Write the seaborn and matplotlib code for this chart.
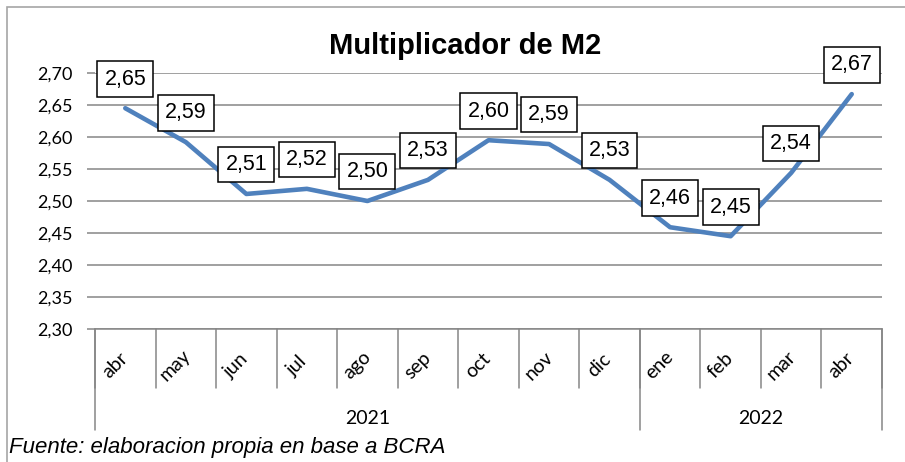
import matplotlib
matplotlib.use("Agg")
import matplotlib.pyplot as plt
import matplotlib.patches as patches
import seaborn as sns

# datos
meses = ["abr", "may", "jun", "jul", "ago", "sep", "oct", "nov", "dic",
         "ene", "feb", "mar", "abr"]
multiplicador = [2.645, 2.592, 2.511, 2.519, 2.500, 2.533, 2.595, 2.589,
                 2.533, 2.459, 2.445, 2.544, 2.667]
etiquetas = ["2,65", "2,59", "2,51", "2,52", "2,50", "2,53", "2,60", "2,59",
             "2,53", "2,46", "2,45", "2,54", "2,67"]
anios = ["2021", "2022"]
meses_por_anio = [9, 4]
yticks = [2.30, 2.35, 2.40, 2.45, 2.50, 2.55, 2.60, 2.65, 2.70]

sns.set_theme(style="white")
plt.rcParams["font.family"] = ["Liberation Sans", "DejaVu Sans"]
plt.rcParams["text.color"] = "black"
plt.rcParams["ytick.labelcolor"] = "black"

gris = "#868686"
azul = "#4F81BD"

fig = plt.figure(figsize=(9.05, 4.62), dpi=100)
ax = fig.add_axes([95 / 905, 1 - 329 / 462, 787 / 905, 256 / 462])

x = list(range(len(meses)))
sns.lineplot(x=x, y=multiplicador, ax=ax, color=azul, linewidth=3.3, zorder=3)

ax.set_xlim(-0.5, len(meses) - 0.5)
ax.set_ylim(2.30, 2.70)
ax.set_yticks(yticks)
ax.set_yticklabels([f"{v:.2f}".replace(".", ",") for v in yticks],
                   family="Lato", fontsize=13)
ax.set_xticks([])
ax.yaxis.grid(True, color=gris, linewidth=1.1)
ax.tick_params(axis="y", length=6, width=1.1, color=gris, pad=10, left=True)
for s in ["top", "right", "left"]:
    ax.spines[s].set_visible(False)
ax.spines["bottom"].set_color(gris)
ax.spines["bottom"].set_linewidth(1.1)

# etiquetas de datos
for xi, v, t in zip(x, multiplicador, etiquetas):
    ax.annotate(t, (xi, v), xytext=(0, 21), textcoords="offset points",
                ha="center", va="center", fontsize=15.5, zorder=5,
                annotation_clip=False,
                bbox=dict(boxstyle="square,pad=0.33", fc="white", ec="black", lw=1.1))

# eje de categorias en dos niveles
trans = ax.get_xaxis_transform()
for k in range(len(meses) + 1):
    ax.plot([k - 0.5, k - 0.5], [0, -0.23], transform=trans, color=gris,
            lw=1.1, clip_on=False)
for xi, m in zip(x, meses):
    ax.text(xi - 0.17, -0.142, m, transform=trans, rotation=45, ha="center",
            va="center", family="Lato", fontsize=14)

inicio = 0
for anio, n in zip(anios, meses_por_anio):
    ax.plot([inicio - 0.5, inicio - 0.5], [0, -0.395], transform=trans,
            color=gris, lw=1.1, clip_on=False)
    ax.text(inicio + (n - 1) / 2, -0.35, anio, transform=trans, ha="center",
            va="center", family="Lato", fontsize=14)
    inicio += n
ax.plot([inicio - 0.5, inicio - 0.5], [0, -0.395], transform=trans,
        color=gris, lw=1.1, clip_on=False)

fig.text(465 / 905, 1 - 46 / 462, "Multiplicador de M2", ha="center",
         va="center", fontsize=21, fontweight="bold")
fig.text(9 / 905, 1 - 447 / 462, "Fuente: elaboracion propia en base a BCRA",
         ha="left", va="center", fontsize=16, style="italic")

fig.patches.append(patches.Rectangle((7 / 905, -0.1), 1.2, 1.1 - 7 / 462,
                                     transform=fig.transFigure, fill=False,
                                     ec="#A6A6A6", lw=1.2))

fig.savefig("out.png", dpi=100)
